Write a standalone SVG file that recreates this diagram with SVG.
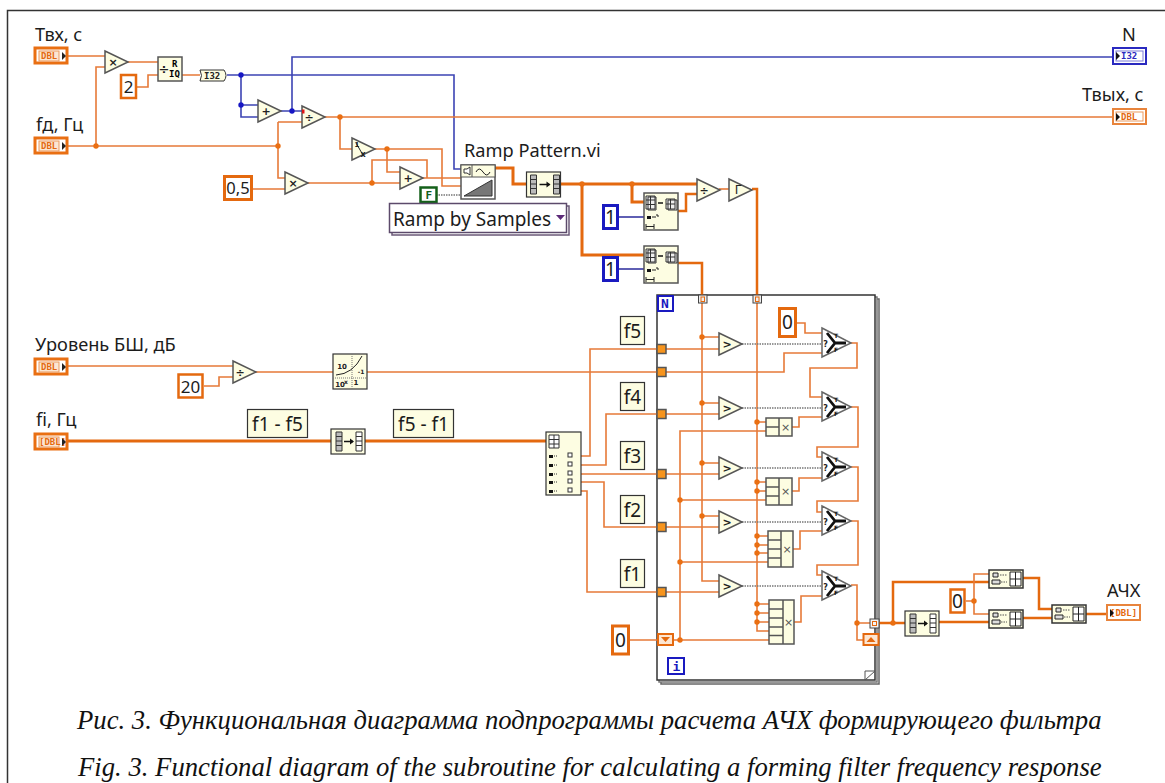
<svg xmlns="http://www.w3.org/2000/svg" width="1165" height="783" viewBox="0 0 1165 783">
<style>
.bg{fill:#fff}
.w{fill:none;stroke:#e67a38;stroke-width:1.6}
.t{fill:none;stroke:#e4690f;stroke-width:3}
.b{fill:none;stroke:#3c44b4;stroke-width:1.6}
.bd{fill:none;stroke:#2b2b9c;stroke-width:1.5}
.dot{fill:none;stroke:#777;stroke-width:1.5;stroke-dasharray:1.5 1}
.jo{fill:#ea6f12}
.jb{fill:#1616c4}
.n{fill:#fdfde2;stroke:#555;stroke-width:1.5}
.k{fill:#fdfde2;stroke:#333;stroke-width:1.2}
.lab{font-family:"Noto Sans","Liberation Sans",sans-serif;font-size:18.2px;fill:#1c1c1c}
.box{font-family:"Noto Sans","Liberation Sans",sans-serif;font-size:19px;fill:#1c1c1c}
.op{font-family:"DejaVu Sans",sans-serif;font-size:11px;font-weight:bold;fill:#222;text-anchor:middle}
.mono{font-family:"DejaVu Sans Mono","Liberation Mono",monospace;font-weight:bold;font-size:9px}
.cap{font-family:"Liberation Serif",serif;font-style:italic;font-size:26.7px;fill:#111}
.c{fill:#fff;stroke:#e4690f;stroke-width:3}
.cb{fill:#fff;stroke:#1a1ac0;stroke-width:3}
.cs{fill:#fff;stroke:#e4690f;stroke-width:2.5}
.ctr{fill:#fff;stroke:#e96f12;stroke-width:3}
.ind{fill:#fff;stroke:#e8843c;stroke-width:2}
.inner{fill:#fbe6d2;stroke:#eb9a5f;stroke-width:1}
.sr{fill:#f7941d;stroke:#555;stroke-width:1.5}
.g{fill:#fff;stroke:#333;stroke-width:1}
.tf{font-family:"DejaVu Sans",sans-serif;font-size:6px;font-weight:bold;fill:#111}
</style>
<defs>
<polygon id="tri" class="n" points="0,0 23,11 0,22"/>
<g id="sel"><polygon points="0,0 29,15 0,29" fill="#fff" stroke="#666" stroke-width="1.5"/><path d="M5,5 L13,15 L5,25 M13,15 L24,15" fill="none" stroke="#111" stroke-width="2.8"/></g>
<g id="rs"><rect class="k" x="0" y="0" width="34" height="25"/><path d="M4,3h6v19h-6zM4,7.5h6M4,12h6M4,16.500h6M27,3h6v19h-6zM27,7.500h6M27,12h6M27,16.500h6" fill="#bbb" stroke="#333" stroke-width="1"/><path d="M13,12.500h10" stroke="#111" stroke-width="1.500"/><path d="M24,12.500l-4,-3v6z" fill="#111"/></g>
<g id="rs2"><rect class="k" x="0" y="0" width="34" height="25"/><path d="M5,3h6v19h-6zM5,7.500h6M5,12h6M5,16.500h6" fill="#bbb" stroke="#333"/><path d="M25,3h6v19h-6zM25,7.500h6M25,12h6M25,16.500h6" fill="#fff" stroke="#333"/><path d="M13,12.500h9" stroke="#111" stroke-width="1.500"/><path d="M23,12.500l-4,-3v6z" fill="#111"/></g>
<g id="da"><rect class="n" x="0" y="0" width="34" height="37"/><path d="M4,4h8v13h-8zM2,3h9v13h-9zM2,7h9M2,11.500h9M6.500,3v13M24,7h9v10h-9zM22,6h9v10h-9zM22,11h9M26.500,6v10" fill="#eee" stroke="#333"/><path d="M14,10h5" stroke="#111" stroke-width="1.500"/><path d="M3,23h4v3h-4z" fill="#111"/><path d="M8,24h4M12,22h2v2" stroke="#222" fill="none"/><path d="M2,31v5M10,31v5M2,33.500h8" stroke="#222"/></g>
<g id="ba"><rect x="0" y="0" width="34" height="18" fill="#fdfde2" stroke="#333" stroke-width="1.500"/><path d="M4,3h5v4h-5zM3,10h8v4h-8z" fill="#ddd" stroke="#222"/><path d="M11,5h7M12,12h6" stroke="#555" stroke-dasharray="1.500 1"/><path d="M21,2h11v14h-11zM21,9h11M26.500,2v14" fill="#fff" stroke="#222"/></g>
</defs>
<rect class="bg" width="1165" height="783"/>
<path d="M7.500,783V10.500H1165" fill="none" stroke="#333" stroke-width="1.500"/>

<g id="loop">
<rect x="661" y="299" width="218" height="385" fill="#fff" stroke="#666" stroke-width="1.500"/>
<rect x="659" y="297" width="218" height="385" fill="#fff" stroke="#777" stroke-width="1.500"/>
<rect x="657" y="295" width="218" height="385" fill="#fff" stroke="#333" stroke-width="1.500"/>
<path d="M865,680V671H875L865,680" fill="#fff" stroke="#555"/>
</g>

<g id="connectors">
<path class="w" d="M68,56H105M68,146H278M96,146V67H105M278,122V178H285M278,122H302M253,189H285M128,62H158M137,87H148V75H158M182,75H200"/>
<path class="b" d="M227,75H454V169H461M241,75V117H258M241,105H258M281,111H302M292,111V57H1112"/>
<path class="w" d="M325,117H1112M340,117V149H352M374,149H442V186H461M387,149V172H400M308,183H400M372,183V160H427V178H461M422,178H427"/>
<path class="dot" d="M436,195H461"/>
<path class="t" d="M495,168H513V184H526M561,184H697M632,184V202H644M582,184V255H644"/>
<path class="bd" d="M619,217H644M619,269H644"/>
<path class="t" d="M678,211H686V194H697M678,263H702V295M757,295V189H752" style="stroke-width:2.500"/>
<path class="w" d="M719,189H729"/>
<path class="w" d="M68,366H233M204,386H219V377H233M255,372H333M367,372H784V353H822"/>
<path class="t" d="M68,441H331M365,441H546"/>
<path class="w" d="M581,456H590V349H719M581,465H606V414H719M581,474H719M581,482H604V527H719M581,491H587V592H719"/>
<path class="w" d="M630,640H657M673,640H769M680,640V431H766"/>
<path class="w" d="M680,500H766M680,562H768"/>
<path class="w" d="M702,303V581H719M702,337H719M702,403H719M702,463H719M702,516H719"/>
<path class="w" d="M757,303V631H769M757,422H766M757,482H766M757,491H766M757,536H768M757,545H768M757,553H768M757,604H769M757,613H769M757,622H769"/>
<path class="dot" d="M742,344H822M742,408H822M742,468H822M742,522H822M742,586H822"/>
<path class="w" d="M797,323H805V333H822"/>
<path class="w" d="M851,343H857V368H810V397H822M851,407H858V447H817V457H822M851,467H858V501H817V512H822M851,521H858V565H817V575H822M851,585H857V640H863M857,623H870"/>
<path class="w" d="M792,427H799V417H822M792,491H799V478H822M793,549H800V531H822M794,622H801V596H822"/>
<path class="t" d="M879,623H905M893,623V582H989M939,622H989M1023,578H1039V609H1052M1023,618H1052M1086,614H1106" style="stroke-width:2.500"/>
<path class="w" d="M966,601H974V574H989M974,601V614H989"/>
<g class="jo">
<circle cx="96" cy="146" r="2.700"/><circle cx="278" cy="146" r="2.700"/><circle cx="340" cy="117" r="2.700"/><circle cx="387" cy="149" r="2.700"/><circle cx="372" cy="183" r="2.700"/><circle cx="582" cy="184" r="2.700"/><circle cx="632" cy="184" r="2.700"/>
<circle cx="702" cy="337" r="2.700"/><circle cx="702" cy="403" r="2.700"/><circle cx="702" cy="463" r="2.700"/><circle cx="702" cy="516" r="2.700"/>
<circle cx="757" cy="422" r="2.700"/><circle cx="757" cy="482" r="2.700"/><circle cx="757" cy="491" r="2.700"/><circle cx="757" cy="536" r="2.700"/><circle cx="757" cy="545" r="2.700"/><circle cx="757" cy="553" r="2.700"/><circle cx="757" cy="604" r="2.700"/><circle cx="757" cy="613" r="2.700"/><circle cx="757" cy="622" r="2.700"/>
<circle cx="680" cy="500" r="2.700"/><circle cx="680" cy="562" r="2.700"/><circle cx="680" cy="640" r="2.700"/><circle cx="857" cy="623" r="2.700"/><circle cx="893" cy="623" r="2.700"/><circle cx="974" cy="601" r="2.700"/>
</g>
<g class="jb"><circle cx="241" cy="75" r="2.700"/><circle cx="241" cy="105" r="2.700"/><circle cx="292" cy="111" r="2.700"/></g>
</g>

<g id="t-tvx"><text class="lab" x="35" y="41">Твх, с</text><rect class="ctr" x="35" y="48" width="32" height="15"/><rect class="inner" x="39" y="51" width="20" height="10"/><text class="mono" x="41" y="59" fill="#e4690f">DBL</text><path d="M62,52l4,4l-4,4z" fill="#222"/></g>
<g id="t-fd"><text class="lab" x="36" y="131">fд, Гц</text><rect class="ctr" x="35" y="138" width="32" height="15"/><rect class="inner" x="39" y="141" width="20" height="10"/><text class="mono" x="41" y="149" fill="#e4690f">DBL</text><path d="M62,142l4,4l-4,4z" fill="#222"/></g>
<g id="t-urov"><text class="lab" x="35" y="351">Уровень БШ, дБ</text><rect class="ctr" x="35" y="359" width="32" height="15"/><rect class="inner" x="39" y="362" width="20" height="10"/><text class="mono" x="41" y="370" fill="#e4690f">DBL</text><path d="M62,363l4,4l-4,4z" fill="#222"/></g>
<g id="t-fi"><text class="lab" x="36" y="426">fi, Гц</text><rect class="ctr" x="35" y="434" width="32" height="15"/><rect class="inner" x="39" y="437" width="20" height="10"/><text class="mono" x="39" y="445" fill="#e4690f">[DBL]</text><path d="M62,438l4,4l-4,4z" fill="#222"/></g>
<g id="t-n"><text class="lab" x="1122" y="41">N</text><rect x="1113" y="48" width="33" height="16" fill="#fff" stroke="#2a2ac0" stroke-width="2"/><rect x="1116" y="51" width="27" height="10" fill="#fff" stroke="#7c7cd8"/><text class="mono" x="1121" y="59" fill="#2a2ac0">I32</text><path d="M1116,52l4,4l-4,4z" fill="#111"/></g>
<g id="t-tvyx"><text class="lab" x="1082" y="101">Твых, с</text><rect class="ind" x="1113" y="109" width="33" height="15"/><rect class="inner" x="1116" y="112" width="27" height="9" style="fill:#fff"/><text class="mono" x="1121" y="120" fill="#e4690f">DBL</text><path d="M1116,113l4,4l-4,4z" fill="#111"/></g>
<g id="t-ach"><text class="lab" x="1107" y="597">АЧХ</text><rect class="ind" x="1107" y="605" width="33" height="15"/><text class="mono" x="1110" y="616" fill="#e4690f">[DBL]</text><path d="M1110,609l4,4l-4,4z" fill="#111"/></g>

<g id="mul1" transform="translate(105,51)"><use href="#tri"/><text class="op" x="8" y="15">×</text></g>
<g id="qr" transform="translate(158,57)"><rect class="n" width="24" height="24"/><text class="op" x="6" y="17" style="font-size:13px">÷</text><text class="mono" x="14" y="10">R</text><text class="mono" x="11" y="20">IQ</text></g>
<g id="c2"><rect class="cs" x="121" y="75" width="15" height="23"/><text class="box" x="128.500" y="93" text-anchor="middle" style="font-size:17px">2</text></g>
<g id="toi32" transform="translate(200,70)"><path d="M0,0H24Q28,5.500 24,11H0Q3,5.500 0,0Z" fill="#fdfde2" stroke="#333"/><text class="mono" x="4" y="9" fill="#222">I32</text></g>
<g id="add1" transform="translate(258,100)"><use href="#tri"/><text class="op" x="8" y="15">+</text></g>
<g id="div1" transform="translate(302,106)"><use href="#tri"/><text class="op" x="7" y="15">÷</text><rect x="0" y="3.500" width="2.500" height="4" fill="#e01515"/></g>
<g id="mul2" transform="translate(285,172)"><use href="#tri"/><text class="op" x="8" y="15">×</text></g>
<g id="c05"><rect class="c" x="224.500" y="176.500" width="27" height="23"/><text class="box" x="238" y="194" text-anchor="middle" style="font-size:16.500px">0,5</text></g>
<g id="inv" transform="translate(352,138)"><use href="#tri"/><path d="M4,5l7,12" stroke="#222"/><text class="op" x="5" y="9" style="font-size:7px">1</text><text class="op" x="11" y="19" style="font-size:8px">x</text></g>
<g id="add2" transform="translate(400,167)"><use href="#tri"/><text class="op" x="8" y="15">+</text></g>
<g id="ramp" transform="translate(461,165)"><text class="lab" x="3" y="-8">Ramp Pattern.vi</text><rect x="0" y="0" width="34" height="34" fill="#fff" stroke="#555" stroke-width="1.500"/><rect x="0" y="0" width="34" height="12" fill="#fdfde2" stroke="#555"/><path d="M11,0V12" stroke="#555"/><path d="M3,4h3l3,-2v8l-3,-2h-3z" fill="#fff" stroke="#333"/><path d="M15,7q3,-6 7,0t7,0" fill="none" stroke="#222"/><path d="M3,31L31,31V15Z" fill="#777" stroke="#333"/></g>
<g id="cf"><rect x="420.500" y="187.500" width="16" height="14.500" fill="#fff" stroke="#14601a" stroke-width="2.500"/><text class="mono" x="425.500" y="199" fill="#14601a" style="font-size:11px">F</text></g>
<g id="rbs"><rect x="392" y="206" width="177" height="29" fill="#fff" stroke="#6b5a78" stroke-width="1.500"/><rect x="389.500" y="203.500" width="177" height="29" fill="#fff" stroke="#5c4a6b" stroke-width="1.500"/><text class="box" x="393" y="226">Ramp by Samples</text><path d="M556,215h9l-4.500,5z" fill="#5c2a78"/></g>
<g id="rs1" transform="translate(526.500,172)"><use href="#rs"/></g>
<g id="da1" transform="translate(644,193)"><use href="#da"/></g>
<g id="da2" transform="translate(644,246)"><use href="#da"/></g>
<g id="c1a"><rect class="cb" x="603.500" y="205.500" width="14" height="23"/><text class="box" x="610.500" y="224" text-anchor="middle">1</text></g>
<g id="c1b"><rect class="cb" x="603.500" y="257.500" width="14" height="23"/><text class="box" x="610.500" y="276" text-anchor="middle">1</text></g>
<g id="div2" transform="translate(697,179)"><use href="#tri"/><text class="op" x="7" y="15">÷</text></g>
<g id="gamma" transform="translate(729,179)"><use href="#tri"/><text class="op" x="9" y="15" style="font-weight:normal;font-size:12px">Γ</text></g>

<g id="i-n"><rect x="658" y="296" width="15" height="15" fill="#fff" stroke="#1a1ac0" stroke-width="2"/><text class="mono" x="661" y="308" fill="#1a1ac0" style="font-size:13px">N</text></g>
<g id="i-i"><rect x="668" y="658" width="16" height="16" fill="#fff" stroke="#1a1ac0" stroke-width="2"/><text class="mono" x="672.500" y="671" fill="#1a1ac0" style="font-size:13px">i</text></g>
<g id="tun1"><rect x="698.500" y="295" width="8.500" height="8" fill="#eee" stroke="#444"/><rect x="701" y="297" width="3.500" height="4.500" fill="none" stroke="#e4690f"/></g>
<g id="tun2"><rect x="753" y="295" width="8.500" height="8" fill="#eee" stroke="#444"/><rect x="755.500" y="297" width="3.500" height="4.500" fill="none" stroke="#e4690f"/></g>

<g id="tun-f"><rect class="sr" x="657" y="344.500" width="9" height="9"/><rect class="sr" x="657" y="367.500" width="9" height="9"/><rect class="sr" x="657" y="409.500" width="9" height="9"/><rect class="sr" x="657" y="469.500" width="9" height="9"/><rect class="sr" x="657" y="522.500" width="9" height="9"/><rect class="sr" x="657" y="587.500" width="9" height="9"/></g>

<g id="cmp1" transform="translate(719,333)"><use href="#tri"/><text class="op" x="8" y="15">&gt;</text></g>
<g id="cmp2" transform="translate(719,397)"><use href="#tri"/><text class="op" x="8" y="15">&gt;</text></g>
<g id="cmp3" transform="translate(719,457)"><use href="#tri"/><text class="op" x="8" y="15">&gt;</text></g>
<g id="cmp4" transform="translate(719,511)"><use href="#tri"/><text class="op" x="8" y="15">&gt;</text></g>
<g id="cmp5" transform="translate(719,575)"><use href="#tri"/><text class="op" x="8" y="15">&gt;</text></g>

<g id="c0"><rect class="c" x="779.500" y="308.500" width="16" height="28"/><text class="box" x="787.500" y="329" text-anchor="middle" fill="#1c4c8c">0</text></g>
<g id="sel1" transform="translate(822,328)"><use href="#sel"/><text class="op" x="3.500" y="19" style="font-size:8px">?</text><text class="tf" x="12" y="10">T</text><text class="tf" x="12" y="24">F</text></g>
<g id="sel2" transform="translate(822,392)"><use href="#sel"/><text class="op" x="3.500" y="19" style="font-size:8px">?</text><text class="tf" x="12" y="10">T</text><text class="tf" x="12" y="24">F</text></g>
<g id="sel3" transform="translate(822,452)"><use href="#sel"/><text class="op" x="3.500" y="19" style="font-size:8px">?</text><text class="tf" x="12" y="10">T</text><text class="tf" x="12" y="24">F</text></g>
<g id="sel4" transform="translate(822,506)"><use href="#sel"/><text class="op" x="3.500" y="19" style="font-size:8px">?</text><text class="tf" x="12" y="10">T</text><text class="tf" x="12" y="24">F</text></g>
<g id="sel5" transform="translate(822,571)"><use href="#sel"/><text class="op" x="3.500" y="19" style="font-size:8px">?</text><text class="tf" x="12" y="10">T</text><text class="tf" x="12" y="24">F</text></g>

<g id="cm1" transform="translate(766,418)"><rect class="n" width="26" height="18"/><path d="M13,0V18M0,9H13" stroke="#555" stroke-width="1.500"/><text class="op" x="19.500" y="13" style="font-weight:normal;fill:#555">×</text></g>
<g id="cm2" transform="translate(766,478)"><rect class="n" width="26" height="27"/><path d="M13,0V27M0,9H13M0,18H13" stroke="#555" stroke-width="1.500"/><text class="op" x="19.500" y="17" style="font-weight:normal;fill:#555">×</text></g>
<g id="cm3" transform="translate(768,531)"><rect class="n" width="25" height="36"/><path d="M13,0V36M0,9H13M0,18H13M0,27H13" stroke="#555" stroke-width="1.500"/><text class="op" x="19" y="22" style="font-weight:normal;fill:#555">×</text></g>
<g id="cm4" transform="translate(769,600)"><rect class="n" width="25" height="44"/><path d="M14,0V44M0,9H14M0,18H14M0,27H14M0,35.500H14" stroke="#555" stroke-width="1.500"/><text class="op" x="19.500" y="26" style="font-weight:normal;fill:#555">×</text></g>

<g id="sr-l"><rect x="658" y="634" width="15" height="11" fill="#fde6d2" stroke="#e4690f" stroke-width="2"/><path d="M661,637h9l-4.500,5z" fill="#e4690f"/></g>
<g id="sr-r"><rect x="863.500" y="634" width="15" height="11" fill="#fde6d2" stroke="#e4690f" stroke-width="2"/><path d="M866.500,642h9l-4.500,-5z" fill="#e4690f"/></g>
<g id="tun3"><rect x="870" y="619" width="9" height="9" fill="#f4f4f4" stroke="#444"/><rect x="872.500" y="621.500" width="4" height="4" fill="none" stroke="#e4690f"/></g>
<g id="c00"><rect class="c" x="612.500" y="626" width="16" height="28"/><text class="box" x="620.500" y="647" text-anchor="middle">0</text></g>

<g id="c20"><rect class="cs" x="178.500" y="374.500" width="24" height="23"/><text class="box" x="190.500" y="393" text-anchor="middle" style="font-size:17px">20</text></g>
<g id="div3" transform="translate(233,361)"><use href="#tri"/><text class="op" x="7" y="15">÷</text></g>
<g id="pow" transform="translate(333,354)"><rect class="k" width="34" height="35"/><path d="M0,24H34M19,0V35" stroke="#777" stroke-dasharray="1 1"/><path d="M3,21Q20,20 29,2" fill="none" stroke="#222"/><text class="op" x="9" y="15" style="font-size:7px">10</text><text class="op" x="7" y="33" style="font-size:7px">10</text><text class="op" x="13" y="30" style="font-size:6px">x</text><text class="op" x="28" y="20" style="font-size:6px">-1</text><text class="op" x="23" y="31" style="font-size:7px">1</text></g>
<g id="rs3" transform="translate(331,429)"><use href="#rs2"/></g>
<g id="l15"><rect class="k" x="247.500" y="409.500" width="60" height="28"/><text class="box" x="277.500" y="431" text-anchor="middle">f1 - f5</text></g>
<g id="l51"><rect class="k" x="393.500" y="409.500" width="60" height="28"/><text class="box" x="423.500" y="431" text-anchor="middle">f5 - f1</text></g>
<g id="lf5"><rect class="k" x="620.500" y="316.500" width="24" height="28"/><text class="box" x="632.500" y="338" text-anchor="middle">f5</text></g>
<g id="lf4"><rect class="k" x="620.500" y="382.500" width="24" height="28"/><text class="box" x="632.500" y="404" text-anchor="middle">f4</text></g>
<g id="lf3"><rect class="k" x="620.500" y="441.500" width="24" height="28"/><text class="box" x="632.500" y="463" text-anchor="middle">f3</text></g>
<g id="lf2"><rect class="k" x="620.500" y="495.500" width="24" height="28"/><text class="box" x="632.500" y="517" text-anchor="middle">f2</text></g>
<g id="lf1"><rect class="k" x="620.500" y="559.500" width="24" height="28"/><text class="box" x="632.500" y="581" text-anchor="middle">f1</text></g>
<g id="idx" transform="translate(546,432)"><rect class="k" width="35" height="63"/><path d="M3,3h10v13h-10zM3,7.500h10M3,12h10M8,3v13" fill="#fff" stroke="#333"/><g fill="#111"><rect x="3" y="23" width="4" height="3"/><rect x="3" y="32" width="4" height="3"/><rect x="3" y="41" width="4" height="3"/><rect x="3" y="49" width="4" height="3"/><rect x="3" y="58" width="4" height="3"/></g><path d="M8,24h3M8,33h3M8,42h3M8,50h3M8,59h3" stroke="#333" stroke-dasharray="1 1"/><g class="g"><rect x="22" y="21" width="4" height="4"/><rect x="22" y="30" width="4" height="4"/><rect x="22" y="39" width="4" height="4"/><rect x="22" y="47" width="4" height="4"/><rect x="22" y="56" width="4" height="4"/></g></g>

<g id="rs4" transform="translate(905,611)"><use href="#rs2"/></g>
<g id="c0r"><rect class="cs" x="950.500" y="589.500" width="14" height="23"/><text class="box" x="957.500" y="608" text-anchor="middle">0</text></g>
<g id="baA" transform="translate(989,570)"><use href="#ba"/></g>
<g id="baB" transform="translate(989,610)"><use href="#ba"/></g>
<g id="baC" transform="translate(1052,605)"><use href="#ba"/></g>

<g id="caption">
<text class="cap" x="77" y="729">Рис. 3. Функциональная диаграмма подпрограммы расчета АЧХ формирующего фильтра</text>
<text class="cap" x="78" y="776">Fig. 3. Functional diagram of the subroutine for calculating a forming filter frequency response</text>
</g>
</svg>
